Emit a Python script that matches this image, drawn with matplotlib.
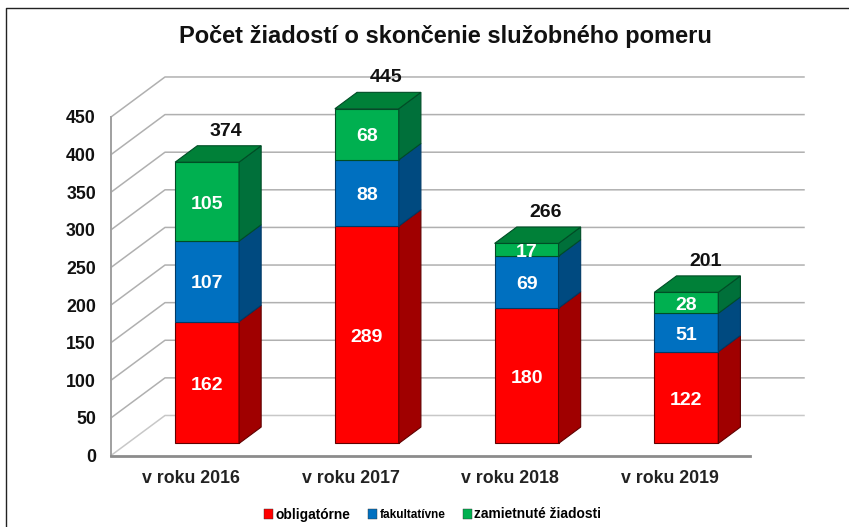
import matplotlib
matplotlib.use('Agg')
import matplotlib.pyplot as plt
from matplotlib.lines import Line2D
from matplotlib.patches import Patch, Polygon

plt.rcParams['font.family'] = ['Liberation Sans', 'DejaVu Sans']
plt.rcParams['font.weight'] = 'bold'

title = 'Počet žiadostí o skončenie služobného pomeru'
years = ['v roku 2016', 'v roku 2017', 'v roku 2018', 'v roku 2019']
obligatorne = [162, 289, 180, 122]
fakultativne = [107, 88, 69, 51]
zamietnute = [105, 68, 17, 28]
totals = [374, 445, 266, 201]
series_names = ['obligatórne', 'fakultatívne', 'zamietnuté žiadosti']
y_ticks = [0, 50, 100, 150, 200, 250, 300, 350, 400, 450]

W, H = 849, 527
# depth of the fake 3d box, in data units
DEPTH_X = 0.338
DEPTH_Y = 53.2
BAR_W = 0.4
BAR_D0 = 0.3
BAR_D1 = 0.71

front_colors = ['#ff0000', '#0070c0', '#00b050']
side_colors = ['#a00000', '#004a80', '#00703a']
top_color = '#008038'
edge_colors = ['#600000', '#003a66', '#004d26']


def project(x, y, d):
    return (x + d * DEPTH_X, y + d * DEPTH_Y)


fig = plt.figure(figsize=(W / 100, H / 100), dpi=100)
ax = fig.add_axes([111 / W, 1 - 455.5 / H, 639 / W, 338.5 / H])
ax.set_xlim(0, 4)
ax.set_ylim(0, 450)
ax.axis('off')

# walls
for t in y_ticks:
    c = '#b0b0b0' if t > 0 else '#c8c8c8'
    ax.plot(*zip(project(0, t, 0), project(0, t, 1), project(4, t, 1)),
            color=c, lw=1.1, clip_on=False, zorder=1)
    ax.text(-0.094, t - 2.6, str(t), ha='right', va='center', fontsize=12.8, color='#111111')
ax.plot([0, 0], [0, 450], color='#a0a0a0', lw=1.4, clip_on=False, zorder=1.5)
ax.plot([0, 4], [0, 0], color='#8c8c8c', lw=2, clip_on=False, zorder=1.5)

# bars
for i, vals in enumerate(zip(obligatorne, fakultativne, zamietnute)):
    xc = i + 0.5
    x0 = xc - BAR_W / 2
    x1 = xc + BAR_W / 2
    dx, dy = project(0, 0, BAR_D0)
    bottom = 0
    for j, v in enumerate(vals):
        ax.bar(xc + dx, v, BAR_W, bottom=bottom + dy, color=front_colors[j],
               edgecolor=edge_colors[j], lw=0.8, clip_on=False, zorder=3)
        side = [project(x1, bottom, BAR_D0), project(x1, bottom, BAR_D1),
                project(x1, bottom + v, BAR_D1), project(x1, bottom + v, BAR_D0)]
        ax.add_patch(Polygon(side, closed=True, fc=side_colors[j], ec=edge_colors[j],
                             lw=0.8, clip_on=False, zorder=3))
        ax.text(xc + dx, bottom + dy + v / 2 - 3.3, str(v), ha='center', va='center',
                color='white', fontsize=14, zorder=5)
        bottom += v
    top = [project(x0, bottom, BAR_D0), project(x1, bottom, BAR_D0),
           project(x1, bottom, BAR_D1), project(x0, bottom, BAR_D1)]
    ax.add_patch(Polygon(top, closed=True, fc=top_color, ec=edge_colors[2],
                         lw=0.8, clip_on=False, zorder=3))
    ax.text(xc + dx + 0.12, bottom + DEPTH_Y * BAR_D1 + 8, str(totals[i]),
            ha='center', va='bottom', fontsize=14, color='#111111', zorder=5)
    ax.text(xc, -30, years[i], ha='center', va='center', fontsize=12.8, color='#222222')

fig.text(445.5 / W, 1 - 37 / H, title, ha='center', va='center', fontsize=17, color='#111111')

handles = [Patch(fc=c, ec='#333333', lw=0.3) for c in front_colors]
leg = fig.legend(handles, series_names, ncols=3, frameon=False, fontsize=9.9,
                 loc='center', bbox_to_anchor=(432.5 / W, 1 - 514.5 / H),
                 handlelength=0.7, handleheight=0.7, handletextpad=0.15, columnspacing=1.27)
leg.get_texts()[1].set_fontsize(8.5)

# frame of the slide
fig.add_artist(Line2D([5.5 / W, 5.5 / W, 1], [0, 1 - 8 / H, 1 - 8 / H], color='#222222', lw=1))

fig.savefig('out.png', dpi=100)
plt.close(fig)
